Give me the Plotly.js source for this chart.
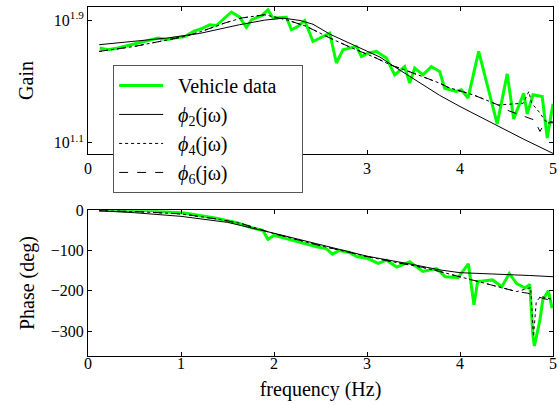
<!DOCTYPE html>
<html>
<head>
<meta charset="utf-8">
<script src="https://cdn.plot.ly/plotly-3.0.1.min.js"></script>
<style>html,body{margin:0;padding:0;background:#fff}#chart{width:559px;height:405px}</style>
</head>
<body>
<div id="chart"></div>
<script>
// ---- Gain: vehicle data ----
var dataFreqGain = [0.126,0.215,0.323,0.467,0.610,0.753,0.843,0.932,1.040,1.147,1.219,1.309,1.381,1.452,1.542,1.631,1.703,1.760,1.868,1.935,1.989,2.133,2.187,2.258,2.330,2.419,2.599,2.671,2.742,2.886,2.940,3.011,3.101,3.155,3.209,3.298,3.405,3.459,3.513,3.602,3.692,3.782,3.835,3.961,4.015,4.086,4.201,4.400,4.508,4.577,4.685,4.723,4.785,4.884,4.938,5.000];
var dataGain = [52.4,51.1,52.4,55.1,57.8,61.0,59.3,61.0,62.4,67.9,70.1,74.5,73.6,80.4,90.2,83.4,71.6,80.4,85.3,93.3,82.4,83.4,69.0,72.6,79.4,57.8,65.6,41.8,51.1,53.7,46.1,48.5,49.8,47.3,45.0,35.0,39.6,30.9,38.7,35.0,39.6,36.8,28.6,27.2,27.9,24.6,49.8,16.7,35.5,18.0,26.5,19.4,25.9,25.2,13.5,22.6];

// ---- Gain: models ----
var phi2FreqGain = [0.12,0.5,0.86,1.2,1.63,1.9,2.1,2.28,2.42,2.6,2.88,3.14,3.25,3.5,3.78,4.0,4.3,4.68,5.0];
var phi2Gain = [55.1,57.8,61.0,65.3,74.5,79.8,82.2,79.4,75.0,64.6,54.3,45.7,41.2,33.1,25.7,21.7,17.4,13.3,10.7];

var phi6FreqGain = [0.12,0.5,0.86,1.04,1.22,1.47,1.65,1.9,2.13,2.35,2.6,2.8,3.1,3.25,3.45,3.78,3.87,4.03,4.14,4.32,4.41,4.5,4.64,4.8,4.86,4.91,5.0];
var phi6Gain = [49.8,53.7,59.3,62.4,67.3,76.4,82.4,86.5,80.4,72.6,61.0,53.7,45.0,40.7,36.8,30.9,29.0,27.2,25.9,23.4,22.2,20.6,19.1,17.7,14.9,16.9,17.0];

var phi4FreqGain = [0.12,0.5,0.86,1.04,1.22,1.47,1.65,1.9,2.13,2.35,2.6,2.8,3.1,3.25,3.45,3.78,3.87,4.03,4.14,4.32,4.41,4.5,4.68,4.74,4.77,4.85,4.92,5.0];
var phi4Gain = [49.8,53.7,59.3,62.4,67.3,76.4,82.4,86.5,80.4,72.6,61.0,53.7,45.0,40.7,36.8,30.9,29.0,27.2,25.9,23.4,22.2,22.4,22.8,27.2,22.9,20.0,17.4,17.2];

// ---- Phase: vehicle data ----
var dataFreqPhase = [0.12,0.3,0.5,0.7,0.75,1.04,1.17,1.38,1.6,1.77,1.88,1.935,2.0,2.19,2.28,2.47,2.56,2.63,2.7,2.81,2.89,3.0,3.12,3.21,3.32,3.46,3.6,3.75,3.84,3.98,4.09,4.15,4.19,4.35,4.45,4.53,4.61,4.70,4.75,4.785,4.80,4.86,4.89,4.95,4.99];
var dataPhase = [0,-1,-2,0,-3,-7,-12,-20,-31,-44,-50,-72,-62,-74,-78,-91,-95,-109,-100,-105,-115,-119,-132,-124,-141,-128,-152,-145,-165,-167,-133,-235,-177,-173,-190,-157,-182,-193,-184,-314,-337,-272,-223,-200,-243];

// ---- Phase: models ----
var phi2FreqPhase = [0.12,0.5,1.0,1.5,2.0,2.5,3.0,3.5,3.78,4.0,4.5,4.75,5.0];
var phi2Phase = [-1,-6,-15,-30,-57,-86,-114,-135,-148,-155,-159,-162,-165];

var phi6FreqPhase = [0.12,0.5,1.0,1.4,1.65,1.85,2.0,2.2,2.5,2.8,3.0,3.3,3.6,3.78,4.0,4.2,4.43,4.61,4.73,4.82,4.96,5.0];
var phi6Phase = [-1,-3,-9,-22,-33,-47,-58,-70,-88,-104,-115,-129,-142,-152,-165,-177,-190,-202,-206,-214,-223,-225];

var phi4FreqPhase = [0.12,0.5,1.0,1.4,1.65,1.85,2.0,2.2,2.5,2.8,3.0,3.3,3.6,3.78,4.0,4.2,4.43,4.61,4.73,4.76,4.79,4.82,4.87,4.95,5.0];
var phi4Phase = [-1,-3,-9,-22,-33,-47,-58,-70,-88,-104,-115,-129,-142,-152,-165,-177,-190,-202,-194,-192,-314,-227,-214,-220,-222];

// ---- Labels ----
var legendNames = ['Vehicle data', '<i>ϕ</i><sub>2</sub>(jω)', '<i>ϕ</i><sub>4</sub>(jω)', '<i>ϕ</i><sub>6</sub>(jω)'];
var xTicks = [0,1,2,3,4,5];
var gainTickVals = [Math.pow(10,1.1), Math.pow(10,1.9)];
var gainTickText = ['10<sup>1.1</sup>', '10<sup>1.9</sup>'];
var phaseTicks = [0,-100,-200,-300];

var FONT = 'Liberation Serif, Times New Roman, serif';
var GREEN = '#00ff00';
var PAD = '&nbsp;&nbsp;';
var TAIL = '&nbsp;&nbsp;&nbsp;&nbsp;';

var traces = [
  {x: dataFreqGain, y: dataGain, xaxis:'x', yaxis:'y', mode:'lines', name: PAD + legendNames[0] + TAIL, line:{color:GREEN, width:3}, legendgroup:'d'},
  {x: phi2FreqGain, y: phi2Gain, xaxis:'x', yaxis:'y', mode:'lines', name: PAD + legendNames[1], line:{color:'#000', width:1}, legendgroup:'p2'},
  {x: phi4FreqGain, y: phi4Gain, xaxis:'x', yaxis:'y', mode:'lines', name: PAD + legendNames[2], line:{color:'#000', width:1, dash:'dot'}, legendgroup:'p4'},
  {x: phi6FreqGain, y: phi6Gain, xaxis:'x', yaxis:'y', mode:'lines', name: PAD + legendNames[3], line:{color:'#000', width:1, dash:'dash'}, legendgroup:'p6'},
  {x: dataFreqPhase, y: dataPhase, xaxis:'x2', yaxis:'y2', mode:'lines', showlegend:false, line:{color:GREEN, width:3}, legendgroup:'d'},
  {x: phi2FreqPhase, y: phi2Phase, xaxis:'x2', yaxis:'y2', mode:'lines', showlegend:false, line:{color:'#000', width:1}, legendgroup:'p2'},
  {x: phi4FreqPhase, y: phi4Phase, xaxis:'x2', yaxis:'y2', mode:'lines', showlegend:false, line:{color:'#000', width:1, dash:'dot'}, legendgroup:'p4'},
  {x: phi6FreqPhase, y: phi6Phase, xaxis:'x2', yaxis:'y2', mode:'lines', showlegend:false, line:{color:'#000', width:1, dash:'dash'}, legendgroup:'p6'}
];

var axCommon = {
  showline:true, linecolor:'#000', linewidth:1, mirror:'ticks',
  ticks:'inside', ticklen:4, tickcolor:'#000', showgrid:false, zeroline:false,
  tickfont:{family:FONT, size:16, color:'#000'}
};

var layout = {
  width:559, height:405,
  margin:{l:88, r:6, t:7, b:49},
  paper_bgcolor:'#fff', plot_bgcolor:'#fff',
  font:{family:FONT, color:'#000'},
  showlegend:true,
  legend:{x:0.054, y:0.834, xanchor:'left', yanchor:'top', bgcolor:'#fff', bordercolor:'#555', borderwidth:1,
          font:{family:FONT, size:20, color:'#000'}, itemwidth:44, tracegroupgap:0},
  xaxis: Object.assign({}, axCommon, {domain:[0,1], anchor:'y', range:[0,5], tickvals:xTicks}),
  yaxis: Object.assign({}, axCommon, {domain:[0.579,1], anchor:'x', type:'log', range:[1.026,1.988],
          tickvals:gainTickVals, ticktext:gainTickText,
          title:{text:'Gain', font:{family:FONT, size:20, color:'#000'}, standoff:14}}),
  xaxis2: Object.assign({}, axCommon, {domain:[0,1], anchor:'y2', range:[0,5], tickvals:xTicks, ticklabelstandoff:-7,
          title:{text:'frequency (Hz)', font:{family:FONT, size:20, color:'#000'}, standoff:10}}),
  yaxis2: Object.assign({}, axCommon, {domain:[0,0.4175], anchor:'x2', range:[-362,0], tickvals:phaseTicks,
          title:{text:'Phase (deg)', font:{family:FONT, size:20, color:'#000'}, standoff:10}})
};

Plotly.newPlot('chart', traces, layout, {staticPlot:true, displayModeBar:false});
</script>
</body>
</html>
